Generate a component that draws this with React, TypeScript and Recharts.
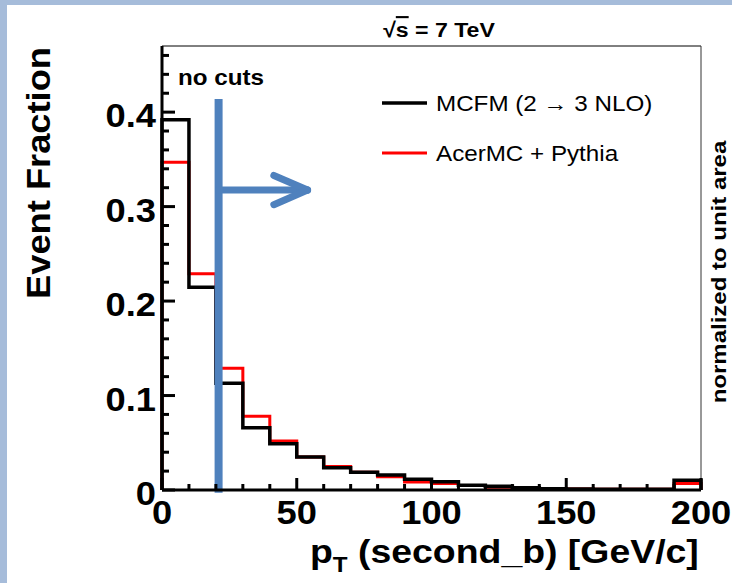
import React from 'react';
import { LineChart, Line, XAxis, YAxis, ReferenceLine, Legend, Customized } from 'recharts';

// ---- data ----
const binStarts = [0, 10, 20, 30, 40, 50, 60, 70, 80, 90, 100, 110, 120, 130, 140, 150, 160, 170, 180, 190];
const mcfmValues = [0.392, 0.2145, 0.113, 0.066, 0.049, 0.035, 0.0236, 0.0187, 0.016, 0.0115, 0.0088, 0.005, 0.004, 0.0025, 0.0012, 0.001, 0.0009, 0.0008, 0.0007, 0.0103];
const acerValues = [0.347, 0.229, 0.129, 0.078, 0.052, 0.035, 0.025, 0.0187, 0.014, 0.0085, 0.007, 0.0048, 0.0028, 0.0017, 0.0012, 0.001, 0.0009, 0.0008, 0.0007, 0.007];
const xEnd = 200;
const xTicks = [0, 10, 20, 30, 40, 50, 60, 70, 80, 90, 100, 110, 120, 130, 140, 150, 160, 170, 180, 190, 200];
const xLabelValues = [0, 50, 100, 150, 200];
const xLabelTexts = ['0', '50', '100', '150', '200'];
const yTicks = [0, 0.02, 0.04, 0.06, 0.08, 0.1, 0.12, 0.14, 0.16, 0.18, 0.2, 0.22, 0.24, 0.26, 0.28, 0.3, 0.32, 0.34, 0.36, 0.38, 0.4, 0.42, 0.44, 0.46];
const yLabelValues = [0, 0.1, 0.2, 0.3, 0.4];
const yLabelTexts = ['0', '0.1', '0.2', '0.3', '0.4'];
const yMax = 0.47;
const seriesNames = ['MCFM (2 \u2192 3 NLO)', 'AcerMC + Pythia'];
const cutValue = 21;

const FONT = '"Liberation Sans", Arial, Helvetica, sans-serif';
const BLUE = '#4F81BD';

// histogram outline rows (stepAfter)
const rows = [
  { x: 0, mcfm: 0, acer: 0 },
  ...binStarts.map((b, i) => ({ x: b, mcfm: mcfmValues[i], acer: acerValues[i] })),
  { x: xEnd, mcfm: mcfmValues[mcfmValues.length - 1], acer: acerValues[acerValues.length - 1] },
  { x: xEnd, mcfm: 0, acer: 0 },
];

const SText = ({ x, y, anchor = 'start', size, weight = 'bold', rotate = 0, sx = 1.1, sy = 1, children }: any) => (
  <text
    transform={`translate(${x},${y}) rotate(${rotate}) scale(${sx},${sy})`}
    textAnchor={anchor}
    fontSize={size}
    fontWeight={weight}
    fontFamily={FONT}
    fill="#000"
  >
    {children}
  </text>
);

const YTick = (props: any) => {
  const { x, y, payload } = props;
  const v = payload.value;
  const idx = yLabelValues.findIndex((t) => Math.abs(t - v) < 1e-9);
  const major = idx >= 0;
  return (
    <g>
      <line x1={x} x2={x + (major ? 13 : 7)} y1={y} y2={y} stroke="#000" strokeWidth={3} />
      {major && (
        <SText x={x - 6} y={y + 15} anchor="end" size={33}>
          {yLabelTexts[idx]}
        </SText>
      )}
    </g>
  );
};

const XTick = (props: any) => {
  const { x, y, payload } = props;
  const v = payload.value;
  const idx = xLabelValues.findIndex((t) => Math.abs(t - v) < 1e-9);
  const major = idx >= 0;
  return (
    <g>
      <line x1={x} x2={x} y1={y} y2={y - (major ? 12 : 6)} stroke="#000" strokeWidth={3} />
      {major && (
        <SText x={x} y={y + 34} anchor="middle" size={33}>
          {xLabelTexts[idx]}
        </SText>
      )}
    </g>
  );
};

const LegendContent = () => (
  <svg width={320} height={90} style={{ display: 'block', overflow: 'visible' }}>
    <line x1={2} x2={47} y1={23} y2={23} stroke="#000" strokeWidth={3.5} />
    <SText x={56} y={31} size={22} weight="normal">{seriesNames[0]}</SText>
    <line x1={2} x2={47} y1={73} y2={73} stroke="#ff0000" strokeWidth={3} />
    <SText x={56} y={81} size={22} weight="normal">{seriesNames[1]}</SText>
  </svg>
);

const Annotations = () => (
  <g>
    <text
      transform="translate(439,37) scale(1.1,1)"
      textAnchor="middle"
      fontSize={21}
      fontWeight="bold"
      fontFamily={FONT}
    >
      {'\u221A'}
      <tspan textDecoration="overline">s</tspan>
      {' = 7 TeV'}
    </text>
    <SText x={178} y={85} size={22}>no cuts</SText>
    <SText x={50} y={173} anchor="middle" size={33} rotate={-90} sx={1.1} sy={1.0}>Event Fraction</SText>
    <SText x={726} y={272} anchor="middle" size={20} rotate={-90} sx={1.2} sy={1.0}>normalized to unit area</SText>
    <text transform="translate(310,563) scale(1.1,1)" fontSize={34} fontWeight="bold" fontFamily={FONT}>
      p
      <tspan fontSize={22} dy={9}>T</tspan>
      <tspan dy={-9}>{' (second_b) [GeV/c]'}</tspan>
    </text>
  </g>
);

export default function App() {
  return (
    <div style={{ position: 'absolute', left: 0, top: 0, width: 732, height: 583, background: '#A6BCDA', overflow: 'hidden' }}>
      <div style={{ position: 'absolute', left: 7, top: 5, width: 725, height: 578, background: '#ffffff' }} />
      <div style={{ position: 'absolute', left: 0, top: 0 }}>
        <LineChart width={732} height={583} data={rows} margin={{ top: 46, right: 31, bottom: 92, left: 161 }}>
          <XAxis
            type="number"
            dataKey="x"
            domain={[0, xEnd]}
            ticks={xTicks}
            interval={0}
            height={1}
            tickSize={0}
            tickMargin={0}
            tick={<XTick />}
            axisLine={{ stroke: '#000', strokeWidth: 3 }}
            tickLine={false}
          />
          <YAxis
            type="number"
            domain={[0, yMax]}
            ticks={yTicks}
            interval={0}
            width={1}
            tickSize={0}
            tickMargin={0}
            tick={<YTick />}
            axisLine={{ stroke: '#000', strokeWidth: 3 }}
            tickLine={false}
            allowDataOverflow
          />
          <ReferenceLine y={yMax} stroke="#000" strokeWidth={1} />
          <ReferenceLine x={xEnd} stroke="#333" strokeWidth={1} />
          <Line
            type="stepAfter"
            dataKey="acer"
            name={seriesNames[1]}
            stroke="#ff0000"
            strokeWidth={3}
            dot={false}
            activeDot={false}
            isAnimationActive={false}
            strokeLinejoin="miter"
          />
          <Line
            type="stepAfter"
            dataKey="mcfm"
            name={seriesNames[0]}
            stroke="#000"
            strokeWidth={3.5}
            dot={false}
            activeDot={false}
            isAnimationActive={false}
            strokeLinejoin="miter"
          />
          <ReferenceLine
            segment={[{ x: cutValue, y: 0.414 }, { x: cutValue, y: -0.003 }]}
            stroke={BLUE}
            strokeWidth={8}
            ifOverflow="visible"
          />
          <ReferenceLine
            segment={[{ x: cutValue, y: 0.3175 }, { x: 54, y: 0.3175 }]}
            stroke={BLUE}
            strokeWidth={7}
            strokeLinecap="round"
            ifOverflow="visible"
          />
          <ReferenceLine
            segment={[{ x: 41.5, y: 0.333 }, { x: 54, y: 0.3175 }]}
            stroke={BLUE}
            strokeWidth={7}
            strokeLinecap="round"
            ifOverflow="visible"
          />
          <ReferenceLine
            segment={[{ x: 41.5, y: 0.302 }, { x: 54, y: 0.3175 }]}
            stroke={BLUE}
            strokeWidth={7}
            strokeLinecap="round"
            ifOverflow="visible"
          />
          <Legend
            layout="horizontal"
            verticalAlign="middle"
            align="center"
            content={<LegendContent />}
            wrapperStyle={{ left: 380, top: 80, width: 320, height: 90 }}
          />
          <Customized component={<Annotations />} />
        </LineChart>
      </div>
    </div>
  );
}
